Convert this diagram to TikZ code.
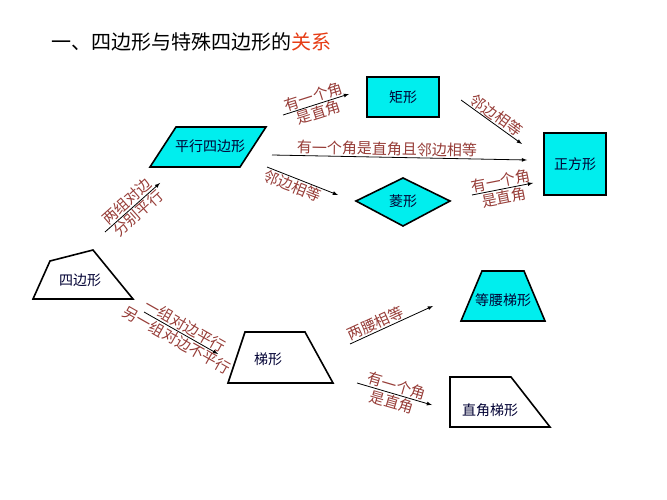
\documentclass[tikz,border=0pt]{standalone}
\usepackage{fontspec}
\setmainfont{Liberation Serif}
\newfontfamily\cjk{Noto Sans CJK SC}
\definecolor{cyn}{RGB}{0,238,238}
\definecolor{lblc}{RGB}{150,60,55}
\definecolor{ttl}{RGB}{230,60,20}
\begin{document}
\begin{tikzpicture}[x=1pt,y=-1pt,
  shp/.style={draw=black,line width=1.6pt,line join=miter},
  cy/.style={fill=cyn},
  stxt/.style={font=\cjk\fontsize{14}{16}\selectfont,text=blue!20!black},
  lbl/.style={font=\cjk\fontsize{15}{16}\selectfont,text=lblc,inner sep=1pt},
  arr/.style={-latex,line width=0.8pt}]
\useasboundingbox (0,0) rectangle (667,500);
\node[anchor=west,font=\cjk\fontsize{20}{22}\selectfont] (title) at (48,42) {一、四边形与特殊四边形的\textcolor{ttl}{关系}};
% shapes
\draw[shp] (33,299)--(133,299)--(93,250)--(50,261)--cycle;
\node[stxt] (quad) at (80,280) {四边形};
\draw[shp,cy] (150,167)--(240,167)--(266,127)--(176,127)--cycle;
\node[stxt] (para) at (210,146) {平行四边形};
\draw[shp,cy] (367,77) rectangle (439,117);
\node[stxt] (rect) at (403,97) {矩形};
\draw[shp,cy] (356,201)--(403,178)--(450,201)--(403,226)--cycle;
\node[stxt] (rhom) at (403,201) {菱形};
\draw[shp,cy] (544,133) rectangle (606,195);
\node[stxt] (sq) at (575,164) {正方形};
\draw[shp] (228,383)--(333,383)--(305,332)--(245,332)--cycle;
\node[stxt] (trap) at (268,359) {梯形};
\draw[shp,cy] (461,321)--(545,321)--(524,271)--(482,271)--cycle;
\node[stxt] (iso) at (503,300) {等腰梯形};
\draw[shp] (450,427)--(550,427)--(511,377)--(450,377)--cycle;
\node[stxt] (rtr) at (490,410) {直角梯形};
% arrow endpoints
\coordinate (a1) at (105,232); \coordinate (b1) at (160,183);
\coordinate (a2) at (283,115); \coordinate (b2) at (349,94);
\coordinate (a3) at (272,155); \coordinate (b3) at (527,160);
\coordinate (a4) at (267,167); \coordinate (b4) at (338,195);
\coordinate (a5) at (461,100); \coordinate (b5) at (522,144);
\coordinate (a6) at (472,195); \coordinate (b6) at (533,183);
\coordinate (a7) at (144,312); \coordinate (b7) at (218,354);
\coordinate (a8) at (350,344); \coordinate (b8) at (433,306);
\coordinate (a9) at (357,383); \coordinate (b9) at (432,405);
\draw[arr] (a1)--(b1) node[midway,sloped,above,lbl]{两组对边} node[midway,sloped,below,lbl]{分别平行};
\draw[arr] (a2)--(b2) node[midway,sloped,above,lbl]{有一个角} node[midway,sloped,below,lbl]{是直角};
\draw[arr] (a3)--(b3) node[pos=0.45,sloped,above,lbl]{有一个角是直角且邻边相等};
\draw[arr] (a4)--(b4) node[pos=0.4,sloped,below,lbl]{邻边相等};
\draw[arr] (a5)--(b5) node[midway,sloped,above,lbl]{邻边相等};
\draw[arr] (a6)--(b6) node[midway,sloped,above,lbl]{有一个角} node[midway,sloped,below,lbl]{是直角};
\draw[arr] (a7)--(b7) node[midway,sloped,above,lbl]{一组对边平行} node[midway,sloped,below,lbl]{另一组对边不平行};
\draw[arr] (a8)--(b8) node[pos=0.35,sloped,above,lbl]{两腰相等};
\draw[arr] (a9)--(b9) node[midway,sloped,above,lbl]{有一个角} node[midway,sloped,below,lbl]{是直角};
\end{tikzpicture}
\end{document}
